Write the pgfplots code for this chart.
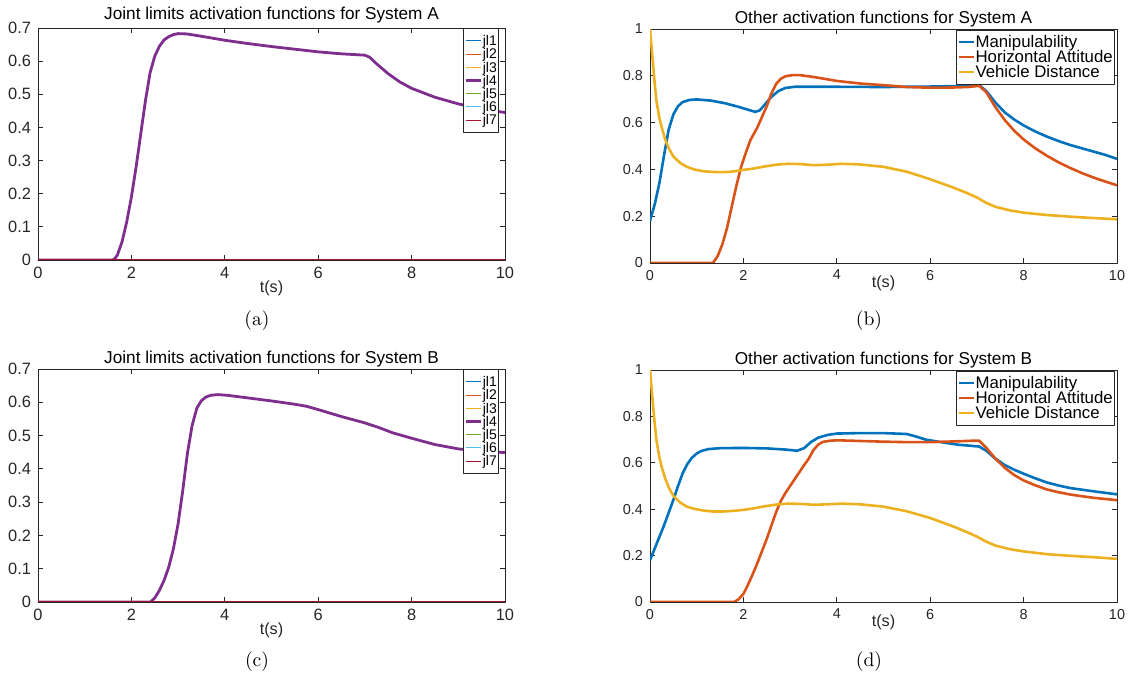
\documentclass[border=0pt]{standalone}
\usepackage{fontspec}
\usepackage{pgfplots}
\pgfplotsset{compat=1.18}
\newfontfamily\hel{Liberation Sans}

% MATLAB default line colours
\definecolor{mblue}{rgb}{0,0.447,0.741}
\definecolor{morange}{rgb}{0.85,0.325,0.098}
\definecolor{myellow}{rgb}{0.929,0.694,0.125}
\definecolor{mpurple}{rgb}{0.494,0.184,0.556}
\definecolor{mgreen}{rgb}{0.466,0.674,0.188}
\definecolor{mcyan}{rgb}{0.301,0.745,0.933}
\definecolor{mred}{rgb}{0.635,0.078,0.184}
\definecolor{axgray}{rgb}{0.15,0.15,0.15}

\pgfplotsset{legend image code/.code={\draw[#1] (0pt,0pt) -- (7.5pt,0pt);}}
\pgfplotsset{
  every axis title shift=0pt,
  mlab/.style={
    scale only axis, width=233.5pt, anchor=south west,
    xmin=0, xmax=10, xtick={0,2,4,6,8,10},
    tick align=inside, tick pos=both, major tick length=2.4pt,
    axis line style={axgray, line width=0.4pt},
    every tick/.style={axgray, line width=0.4pt},
    /pgf/number format/assume math mode=true,
    ticklabel style={text=axgray},
    title style={at={(0.5,1)}, anchor=base, font=\hel\fontsize{8.6}{10}\selectfont},
    xlabel={t(s)},
    legend cell align=left,
    line join=round,
  },
  jlstyle/.style={
    height=116pt, ymin=0, ymax=0.7,
    ytick={0,0.1,0.2,0.3,0.4,0.5,0.6,0.7},
    ticklabel style={font=\hel\fontsize{8.2}{9}\selectfont},
    xlabel style={at={(axis description cs:0.5,0)}, anchor=base, yshift=-16.5pt,
      font=\hel\fontsize{8.1}{9}\selectfont, text=axgray},
    legend style={at={(1,1)}, anchor=north east, xshift=-3pt, yshift=0pt,
      draw=axgray, fill=white, inner sep=0.6pt, row sep=-4.8pt,
      font=\hel\fontsize{7}{7.5}\selectfont,
      nodes={inner sep=0.3pt, text height=0.78em, text depth=0.3em}},
  },
  otstyle/.style={
    height=117pt, ymin=0, ymax=1,
    ytick={0,0.2,0.4,0.6,0.8,1},
    ticklabel style={font=\hel\fontsize{7.2}{8}\selectfont},
    xlabel style={at={(axis description cs:0.5,0)}, anchor=base, yshift=-12.5pt,
      font=\hel\fontsize{8.1}{9}\selectfont, text=axgray},
    legend style={at={(1,1)}, anchor=north east, xshift=-1pt, yshift=-0.5pt,
      draw=axgray, fill=white, inner sep=0.6pt, row sep=-3.1pt,
      font=\hel\fontsize{8.4}{9}\selectfont,
      nodes={inner sep=0.3pt, text height=0.76em, text depth=0.24em}},
  },
}

\begin{document}
\begin{tikzpicture}
\useasboundingbox (0,0) rectangle (566pt,339.5pt);

% (a)
\begin{axis}[mlab, jlstyle, at={(19pt,209.5pt)},
  title={Joint limits activation functions for System A}, title style={yshift=4.2pt}]
\addplot[mblue, line width=0.5pt] coordinates {(0,0)(10,0)}; \addlegendentry{jl1}
\addplot[morange, line width=0.5pt] coordinates {(0,0)(10,0)}; \addlegendentry{jl2}
\addplot[myellow, line width=0.5pt] coordinates {(0,0)(10,0)}; \addlegendentry{jl3}
\addplot[mpurple, line width=1.4pt] coordinates {
 (0,0) (1.6,0) (1.65,0.005) (1.7,0.015) (1.8,0.055) (1.9,0.115) (2.0,0.19)
 (2.1,0.28) (2.2,0.38) (2.3,0.48) (2.4,0.565) (2.5,0.615) (2.6,0.645)
 (2.7,0.664) (2.8,0.674) (2.9,0.680) (3.0,0.683) (3.2,0.682) (3.5,0.675)
 (4,0.663) (4.5,0.653) (5,0.644) (5.5,0.636) (6,0.628) (6.5,0.622)
 (7.0,0.618) (7.1,0.612) (7.25,0.592) (7.5,0.562) (7.75,0.537) (8,0.518)
 (8.5,0.491) (9,0.471) (9.5,0.455) (10,0.445)};
\addlegendentry{jl4}
\addplot[mgreen, line width=0.5pt] coordinates {(0,0)(10,0)}; \addlegendentry{jl5}
\addplot[mcyan, line width=0.5pt] coordinates {(0,0)(10,0)}; \addlegendentry{jl6}
\addplot[mred, line width=0.5pt] coordinates {(0,0)(10,0)}; \addlegendentry{jl7}
\end{axis}

% (b)
\begin{axis}[mlab, otstyle, at={(325pt,208pt)},
  title={Other activation functions for System A}, title style={yshift=2.9pt}]
\addplot[mblue, line width=1.3pt] coordinates {
 (0,0.18) (0.1,0.25) (0.2,0.34) (0.3,0.46) (0.4,0.57) (0.5,0.635) (0.6,0.67)
 (0.7,0.688) (0.85,0.697) (1.0,0.699) (1.3,0.694) (1.6,0.683) (1.9,0.667)
 (2.1,0.655) (2.25,0.646) (2.35,0.652) (2.45,0.675) (2.6,0.71) (2.75,0.735)
 (2.9,0.748) (3.1,0.753) (4,0.753) (5,0.752) (6,0.754) (6.8,0.757)
 (7.05,0.76) (7.2,0.735) (7.4,0.685) (7.6,0.643) (7.8,0.613) (8,0.588)
 (8.25,0.562) (8.5,0.54) (8.75,0.521) (9,0.504) (9.25,0.49) (9.5,0.476)
 (9.75,0.462) (10,0.445)};
\addlegendentry{Manipulability}
\addplot[morange, line width=1.3pt] coordinates {
 (0,0) (1.35,0) (1.45,0.03) (1.55,0.08) (1.65,0.15) (1.75,0.24) (1.85,0.33)
 (1.95,0.41) (2.05,0.47) (2.15,0.525) (2.3,0.58) (2.4,0.625) (2.5,0.67)
 (2.6,0.725) (2.7,0.765) (2.8,0.787) (2.9,0.798) (3.05,0.803) (3.2,0.803)
 (3.5,0.795) (4,0.778) (4.5,0.767) (5,0.76) (5.5,0.752) (6,0.749)
 (6.5,0.75) (6.8,0.752) (7.05,0.757) (7.2,0.73) (7.4,0.665) (7.6,0.61)
 (7.8,0.565) (8,0.528) (8.25,0.49) (8.5,0.458) (8.75,0.43) (9,0.406)
 (9.25,0.384) (9.5,0.365) (9.75,0.348) (10,0.332)};
\addlegendentry{Horizontal Attitude}
\addplot[myellow, line width=1.3pt] coordinates {
 (0,1) (0.03,0.93) (0.06,0.86) (0.1,0.77) (0.14,0.69) (0.2,0.62) (0.26,0.573)
 (0.33,0.525) (0.41,0.487) (0.5,0.455) (0.65,0.427) (0.8,0.41) (0.96,0.399)
 (1.15,0.392) (1.35,0.389) (1.55,0.388) (1.74,0.39) (2.0,0.398) (2.2,0.403)
 (2.44,0.412) (2.7,0.42) (2.95,0.424) (3.2,0.423) (3.5,0.418) (3.8,0.42)
 (4.1,0.424) (4.5,0.421) (5,0.411) (5.5,0.39) (6,0.358) (6.5,0.322)
 (6.8,0.298) (7.0,0.28) (7.2,0.257) (7.4,0.24) (7.7,0.225) (8,0.215)
 (8.5,0.205) (9,0.198) (9.5,0.192) (10,0.187)};
\addlegendentry{Vehicle Distance}
\end{axis}

% (c)
\begin{axis}[mlab, jlstyle, at={(19pt,38.5pt)}, height=116.5pt,
  title={Joint limits activation functions for System B}, title style={yshift=2.5pt}]
\addplot[mblue, line width=0.5pt] coordinates {(0,0)(10,0)}; \addlegendentry{jl1}
\addplot[morange, line width=0.5pt] coordinates {(0,0)(10,0)}; \addlegendentry{jl2}
\addplot[myellow, line width=0.5pt] coordinates {(0,0)(10,0)}; \addlegendentry{jl3}
\addplot[mpurple, line width=1.4pt] coordinates {
 (0,0) (2.41,0) (2.5,0.012) (2.6,0.035) (2.7,0.065) (2.8,0.105) (2.9,0.16)
 (3.0,0.235) (3.1,0.335) (3.2,0.447) (3.3,0.53) (3.4,0.582) (3.5,0.605)
 (3.6,0.616) (3.7,0.621) (3.85,0.623) (4.05,0.621) (4.5,0.613) (5,0.604)
 (5.5,0.594) (5.75,0.588) (6,0.578) (6.5,0.557) (7,0.538) (7.3,0.524)
 (7.6,0.508) (8,0.492) (8.5,0.473) (9,0.46) (9.5,0.452) (10,0.449)};
\addlegendentry{jl4}
\addplot[mgreen, line width=0.5pt] coordinates {(0,0)(10,0)}; \addlegendentry{jl5}
\addplot[mcyan, line width=0.5pt] coordinates {(0,0)(10,0)}; \addlegendentry{jl6}
\addplot[mred, line width=0.5pt] coordinates {(0,0)(10,0)}; \addlegendentry{jl7}
\end{axis}

% (d)
\begin{axis}[mlab, otstyle, at={(325pt,38.5pt)}, height=116pt,
  title={Other activation functions for System B}, title style={yshift=2.5pt}]
\addplot[mblue, line width=1.3pt] coordinates {
 (0,0.18) (0.1,0.23) (0.2,0.28) (0.3,0.33) (0.4,0.385) (0.5,0.44) (0.6,0.5)
 (0.7,0.555) (0.8,0.595) (0.9,0.622) (1.0,0.64) (1.1,0.651) (1.25,0.659)
 (1.5,0.663) (2,0.664) (2.5,0.662) (2.9,0.657) (3.15,0.652) (3.3,0.663)
 (3.45,0.69) (3.6,0.708) (3.8,0.72) (4,0.726) (4.5,0.728) (5,0.728)
 (5.5,0.724) (5.7,0.713) (5.9,0.7) (6.2,0.69) (6.6,0.678) (7.05,0.67)
 (7.2,0.652) (7.4,0.617) (7.6,0.59) (7.8,0.57) (8,0.553) (8.25,0.533)
 (8.5,0.515) (8.75,0.502) (9,0.491) (9.5,0.477) (10,0.464)};
\addlegendentry{Manipulability}
\addplot[morange, line width=1.3pt] coordinates {
 (0,0) (1.8,0) (1.9,0.012) (2.0,0.035) (2.1,0.075) (2.2,0.12) (2.3,0.168)
 (2.4,0.22) (2.5,0.272) (2.6,0.33) (2.7,0.387) (2.8,0.435) (2.9,0.47)
 (3.0,0.5) (3.1,0.53) (3.2,0.56) (3.3,0.59) (3.4,0.618) (3.5,0.655)
 (3.6,0.678) (3.7,0.69) (3.85,0.695) (4,0.697) (4.5,0.694) (5,0.691)
 (5.5,0.689) (6,0.689) (6.5,0.692) (6.9,0.695) (7.05,0.695) (7.2,0.665)
 (7.4,0.617) (7.6,0.578) (7.8,0.547) (8,0.524) (8.25,0.503) (8.5,0.485)
 (8.75,0.473) (9,0.463) (9.5,0.449) (10,0.439)};
\addlegendentry{Horizontal Attitude}
\addplot[myellow, line width=1.3pt] coordinates {
 (0,1) (0.03,0.93) (0.06,0.86) (0.1,0.77) (0.14,0.695) (0.2,0.625) (0.26,0.575)
 (0.33,0.53) (0.41,0.49) (0.5,0.458) (0.65,0.428) (0.8,0.41) (0.96,0.401)
 (1.15,0.394) (1.35,0.39) (1.55,0.39) (1.74,0.392) (2.0,0.397) (2.2,0.403)
 (2.44,0.412) (2.7,0.42) (2.95,0.424) (3.2,0.423) (3.5,0.419) (3.8,0.421)
 (4.1,0.424) (4.5,0.421) (5,0.411) (5.5,0.391) (6,0.362) (6.5,0.325)
 (6.8,0.3) (7.0,0.282) (7.2,0.26) (7.4,0.243) (7.7,0.228) (8,0.218)
 (8.5,0.206) (9,0.199) (9.5,0.193) (10,0.186)};
\addlegendentry{Vehicle Distance}
\end{axis}

% sub-figure captions
\node[font=\fontsize{9.8}{12}\selectfont] at (128.5pt,179.25pt) {(a)};
\node[font=\fontsize{9.8}{12}\selectfont] at (434.5pt,179.25pt) {(b)};
\node[font=\fontsize{9.8}{12}\selectfont] at (128.5pt,8.5pt) {(c)};
\node[font=\fontsize{9.8}{12}\selectfont] at (434.5pt,8.5pt) {(d)};
\end{tikzpicture}
\end{document}
